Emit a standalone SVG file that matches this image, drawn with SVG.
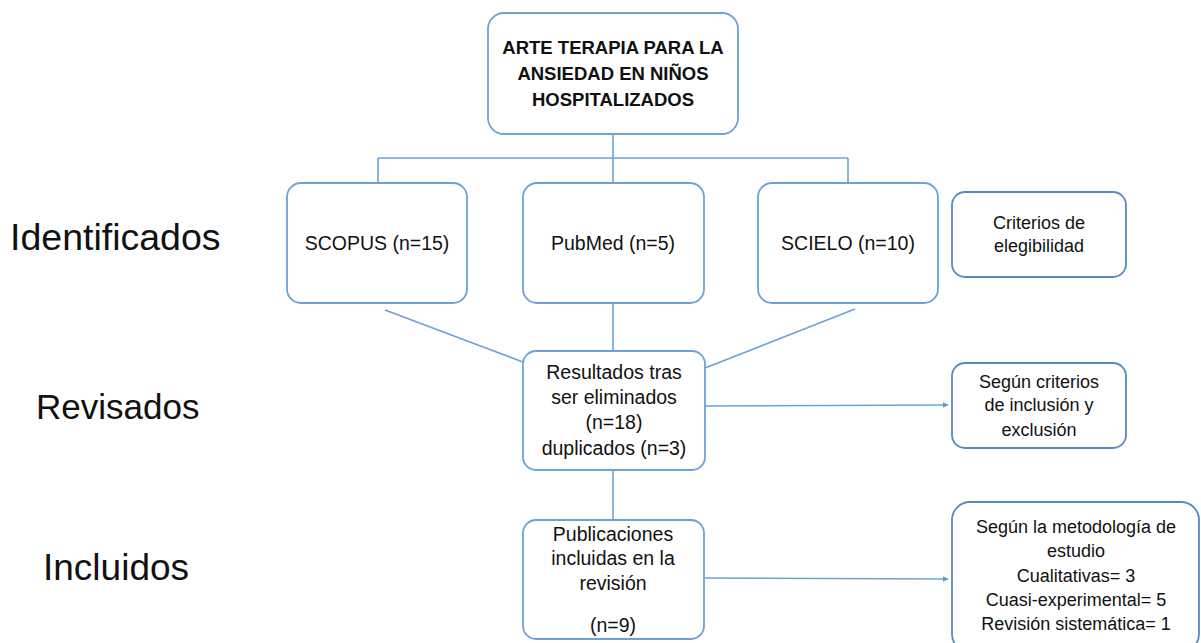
<svg xmlns="http://www.w3.org/2000/svg" width="1201" height="643" viewBox="0 0 1201 643">
<style>
text{font-family:"Liberation Sans",Arial,sans-serif;fill:#111;text-anchor:middle}
.box{fill:#fff;stroke:#6fa1d9;stroke-width:1.8}
.rbox{fill:#fff;stroke:#5a88c0;stroke-width:1.8}
.t{font-size:19.5px}
.s{font-size:18px}
.stage{font-size:36px;text-anchor:start}
.ttl{font-size:18.5px;font-weight:bold}
.c{fill:none;stroke:#6fa1d9;stroke-width:1.6}
</style>
<defs>
<marker id="arr" viewBox="0 0 10 10" refX="9" refY="5" markerWidth="6" markerHeight="6" orient="auto" markerUnits="userSpaceOnUse">
<path d="M0,0 L10,5 L0,10 z" fill="#5b9bd5"/>
</marker>
</defs>
<g id="stages">
<text class="stage" x="10" y="250" style="font-size:37.5px">Identificados</text>
<text class="stage" x="36" y="419" style="font-size:35px">Revisados</text>
<text class="stage" x="43" y="580" style="font-size:37px">Incluidos</text>
</g>
<g id="connectors">
<path class="c" d="M613,135 V158 M378,158 H848 M378,158 V183 M613,158 V183 M848,158 V183"/>
<path class="c" d="M385,310 L523,362 M613,303 V351 M855,309 L705,368"/>
<path class="c" d="M705,406 L948,405" marker-end="url(#arr)"/>
<path class="c" d="M613,470 V520"/>
<path class="c" d="M704,578 L948,579" marker-end="url(#arr)"/>
</g>
<g id="title">
<rect class="box" x="488" y="13" width="250" height="121" rx="16"/>
<text class="ttl" x="613" y="54">ARTE TERAPIA PARA LA</text>
<text class="ttl" x="613" y="80">ANSIEDAD EN NIÑOS</text>
<text class="ttl" x="613" y="106">HOSPITALIZADOS</text>
</g>
<g id="scopus">
<rect class="box" x="287" y="183" width="180" height="120" rx="14"/>
<text class="t" x="377" y="250">SCOPUS (n=15)</text>
</g>
<g id="pubmed">
<rect class="box" x="523" y="183" width="181" height="120" rx="14"/>
<text class="t" x="613" y="250">PubMed (n=5)</text>
</g>
<g id="scielo">
<rect class="box" x="758" y="183" width="180" height="120" rx="14"/>
<text class="t" x="848" y="250">SCIELO (n=10)</text>
</g>
<g id="criterios">
<rect class="rbox" x="952" y="192" width="174" height="85" rx="13"/>
<text class="s" x="1039" y="229">Criterios de</text>
<text class="s" x="1039" y="252">elegibilidad</text>
</g>
<g id="resultados">
<rect class="box" x="523" y="351" width="182" height="119" rx="13"/>
<text class="t" x="614" y="379">Resultados tras</text>
<text class="t" x="614" y="404">ser eliminados</text>
<text class="t" x="614" y="429">(n=18)</text>
<text class="t" x="614" y="455">duplicados (n=3)</text>
</g>
<g id="segun-criterios">
<rect class="rbox" x="952" y="363" width="174" height="85" rx="13"/>
<text class="s" x="1039" y="388">Según criterios</text>
<text class="s" x="1039" y="411">de inclusión y</text>
<text class="s" x="1039" y="436">exclusión</text>
</g>
<g id="publicaciones">
<rect class="box" x="523" y="520" width="181" height="119" rx="13"/>
<text class="t" x="613" y="541">Publicaciones</text>
<text class="t" x="613" y="565">incluidas en la</text>
<text class="t" x="613" y="590">revisión</text>
<text class="t" x="613" y="632">(n=9)</text>
</g>
<g id="metodologia">
<rect class="rbox" x="952" y="502" width="247" height="150" rx="18"/>
<text class="s" x="1076" y="533">Según la metodología de</text>
<text class="s" x="1076" y="557">estudio</text>
<text class="s" x="1076" y="582">Cualitativas= 3</text>
<text class="s" x="1076" y="606">Cuasi-experimental= 5</text>
<text class="s" x="1076" y="630">Revisión sistemática= 1</text>
</g>
</svg>
